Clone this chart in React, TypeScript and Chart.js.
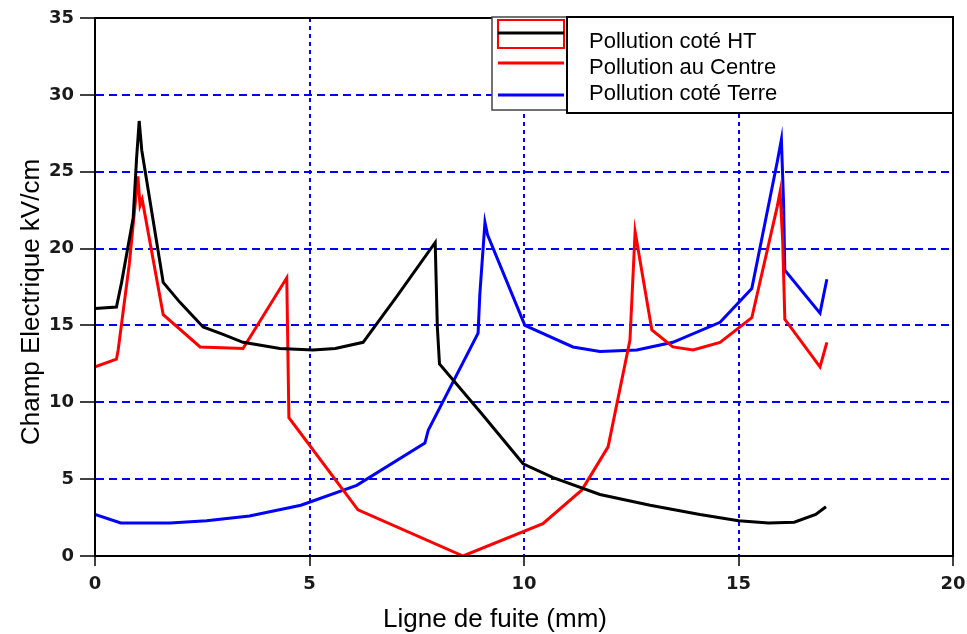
import React, { useEffect, useRef } from "react";
import { Chart, registerables } from "chart.js";

Chart.register(...registerables);

const xTicks = [0, 5, 10, 15, 20];
const yTicks = [0, 5, 10, 15, 20, 25, 30, 35];

const seriesNames = ["Pollution coté HT", "Pollution au Centre", "Pollution coté Terre"];

const xHT = [0, 0.5, 0.62, 0.89, 0.97, 1.03, 1.09, 1.59, 1.98, 2.52, 3.0, 3.45, 4.31, 5.08, 5.6, 6.25, 7.04, 7.93, 7.98, 8.03, 9.0, 9.98, 10.68, 11.77, 12.94, 14.1, 15.0, 15.7, 16.3, 16.8, 17.04];
const yHT = [16.1, 16.2, 17.8, 22.0, 25.9, 28.3, 26.4, 17.8, 16.5, 14.9, 14.4, 13.9, 13.5, 13.4, 13.5, 13.9, 16.9, 20.4, 14.9, 12.5, 9.3, 6.0, 5.1, 4.0, 3.3, 2.7, 2.3, 2.15, 2.2, 2.7, 3.2];

const xCentre = [0, 0.5, 0.54, 0.8, 1.0, 1.05, 1.1, 1.59, 2.45, 3.45, 4.47, 4.52, 6.13, 8.58, 10.44, 11.35, 11.96, 12.47, 12.59, 12.98, 13.47, 13.94, 14.57, 15.31, 15.9, 15.97, 16.03, 16.08, 16.9, 17.06];
const yCentre = [12.3, 12.8, 13.4, 19.0, 24.7, 22.8, 23.2, 15.7, 13.6, 13.5, 18.1, 9.0, 3.0, 0.0, 2.1, 4.3, 7.1, 14.05, 21.1, 14.7, 13.6, 13.4, 13.9, 15.5, 22.7, 23.7, 20.5, 15.4, 12.3, 13.9];

const xTerre = [0, 0.6, 1.75, 2.6, 3.6, 4.8, 6.1, 7.69, 7.77, 8.93, 8.97, 9.09, 9.15, 10.02, 11.14, 11.77, 12.63, 13.47, 14.57, 15.31, 15.9, 16.0, 16.05, 16.08, 16.9, 16.95, 17.06];
const yTerre = [2.7, 2.15, 2.15, 2.3, 2.6, 3.3, 4.6, 7.35, 8.2, 14.5, 17.0, 21.7, 20.9, 15.0, 13.6, 13.3, 13.4, 13.9, 15.2, 17.4, 25.6, 27.1, 23.0, 18.6, 15.8, 16.5, 18.0];

const colors = ["#000000", "#ff0000", "#0000ff"];

const toPoints = (xs: number[], ys: number[]) => xs.map((x, i) => ({ x, y: ys[i] }));

const TEXT_FONT = "'Liberation Sans', Arial, sans-serif";

const framePlugin = {
  id: "frameAndLegend",
  afterDraw(chart: any) {
    const { ctx, chartArea } = chart;
    const { left, right, top, bottom } = chartArea;
    ctx.save();
    // frame
    ctx.strokeStyle = "#000";
    ctx.lineWidth = 2;
    ctx.setLineDash([]);
    ctx.strokeRect(left, top, right - left, bottom - top);

    // axis titles
    ctx.fillStyle = "#000";
    ctx.font = `26px ${TEXT_FONT}`;
    ctx.textAlign = "center";
    ctx.textBaseline = "alphabetic";
    ctx.fillText("Ligne de fuite (mm)", 495, 627);
    ctx.save();
    ctx.translate(39, 302);
    ctx.rotate(-Math.PI / 2);
    ctx.fillText("Champ Electrique kV/cm", 0, 0);
    ctx.restore();

    // legend
    const lx0 = 492, lx1 = 567, ly0 = 17, ly1 = 110;
    const tx1 = 953, ty1 = 113;
    ctx.fillStyle = "#fff";
    ctx.fillRect(lx0, ly0, lx1 - lx0, ly1 - ly0);
    ctx.strokeStyle = "#444";
    ctx.lineWidth = 1.5;
    ctx.strokeRect(lx0, ly0, lx1 - lx0, ly1 - ly0);
    ctx.fillStyle = "#fff";
    ctx.fillRect(lx1, ly0, tx1 - lx1, ty1 - ly0);
    ctx.strokeStyle = "#000";
    ctx.lineWidth = 2;
    ctx.strokeRect(lx1, ly0, tx1 - lx1, ty1 - ly0);

    // samples
    ctx.strokeStyle = colors[1];
    ctx.lineWidth = 2;
    ctx.strokeRect(498, 20, 66, 28);
    const rowsY = [33, 63, 95];
    for (let i = 0; i < 3; i++) {
      ctx.strokeStyle = colors[i];
      ctx.lineWidth = 3;
      ctx.beginPath();
      ctx.moveTo(498, rowsY[i]);
      ctx.lineTo(564, rowsY[i]);
      ctx.stroke();
    }
    ctx.fillStyle = "#000";
    ctx.font = `22px ${TEXT_FONT}`;
    ctx.textAlign = "left";
    ctx.textBaseline = "middle";
    const textY = [42, 68, 94];
    seriesNames.forEach((n, i) => ctx.fillText(n, 589, textY[i]));
    ctx.restore();
  },
};

export default function App() {
  const ref = useRef<HTMLCanvasElement>(null);
  useEffect(() => {
    if (!ref.current) return;
    const tickFont = { family: "'DejaVu Sans', Verdana, sans-serif", size: 18, weight: "bold" as const };
    const chart = new Chart(ref.current, {
      type: "line",
      data: {
        datasets: [
          { label: seriesNames[0], data: toPoints(xHT, yHT), borderColor: colors[0] },
          { label: seriesNames[1], data: toPoints(xCentre, yCentre), borderColor: colors[1] },
          { label: seriesNames[2], data: toPoints(xTerre, yTerre), borderColor: colors[2] },
        ].map((d) => ({ ...d, borderWidth: 3, pointRadius: 0, tension: 0, fill: false })),
      },
      options: {
        responsive: false,
        animation: false,
        layout: { padding: { top: 18, right: 14, left: 0, bottom: 0 } },
        plugins: { legend: { display: false }, tooltip: { enabled: false } },
        scales: {
          x: {
            type: "linear",
            min: 0,
            max: 20,
            afterBuildTicks: (s: any) => { s.ticks = xTicks.map((v) => ({ value: v })); },
            afterFit: (s: any) => { s.height = 78; s.paddingLeft = 0; s.paddingRight = 0; },
            ticks: { font: tickFont, color: "#1a1a1a", padding: 8, maxRotation: 0 },
            grid: {
              color: (c: any) => (c.tick && (c.tick.value === 0 || c.tick.value === 20) ? "rgba(0,0,0,0)" : "#0000ff"),
              lineWidth: 2,
              tickLength: 10,
              tickColor: "#000",
              tickWidth: 1.5,
              tickBorderDash: [],
            },
            border: { display: true, color: "#000", width: 2, dash: [4, 4] },
          },
          y: {
            type: "linear",
            min: 0,
            max: 35,
            afterBuildTicks: (s: any) => { s.ticks = yTicks.map((v) => ({ value: v })); },
            afterFit: (s: any) => { s.width = 95; s.paddingTop = 0; s.paddingBottom = 0; },
            ticks: { font: tickFont, color: "#1a1a1a", padding: 6 },
            grid: {
              color: (c: any) => (c.tick && (c.tick.value === 0 || c.tick.value === 35) ? "rgba(0,0,0,0)" : "#0000ff"),
              lineWidth: 2,
              tickLength: 15,
              tickColor: "#000",
              tickWidth: 1.5,
              tickBorderDash: [],
            },
            border: { display: true, color: "#000", width: 2, dash: [8, 5] },
          },
        },
      },
      plugins: [framePlugin],
    });
    return () => chart.destroy();
  }, []);
  return (
    <div style={{ position: "absolute", left: 0, top: 0, width: 967, height: 634, background: "#fff" }}>
      <canvas ref={ref} width={967} height={634} style={{ display: "block" }} />
    </div>
  );
}
